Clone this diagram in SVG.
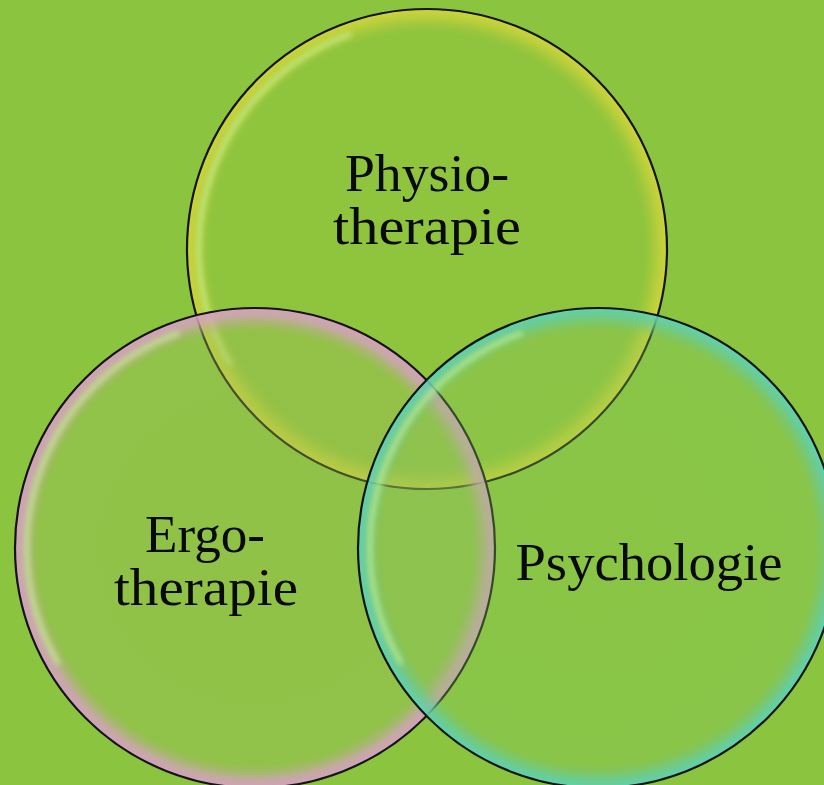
<svg xmlns="http://www.w3.org/2000/svg" width="824" height="785" viewBox="0 0 824 785">
  <defs>
    <style>
      .label { font-family: "Liberation Serif", "Times New Roman", serif; font-size: 52px; fill: #0a0a0a; text-anchor: middle; }
      .outline { fill: none; stroke: #141414; stroke-width: 2.2; }
      .hl { fill: none; stroke: #cdf49a; stroke-width: 6; stroke-opacity: 0.55; stroke-linecap: round; filter: url(#blur); }
    </style>
    <filter id="blur" x="-20%" y="-20%" width="140%" height="140%">
      <feGaussianBlur stdDeviation="2.5"/>
    </filter>
    <radialGradient id="gTop" cx="50%" cy="50%" r="50%">
      <stop offset="0" stop-color="#98c23a" stop-opacity="0.3"/>
      <stop offset="0.9" stop-color="#98c23a" stop-opacity="0.3"/>
      <stop offset="0.965" stop-color="#c6d23a" stop-opacity="0.75"/>
      <stop offset="1" stop-color="#d2d43c" stop-opacity="0.95"/>
    </radialGradient>
    <radialGradient id="gLeft" cx="50%" cy="50%" r="50%">
      <stop offset="0" stop-color="#97bc52" stop-opacity="0.35"/>
      <stop offset="0.9" stop-color="#9cbc5c" stop-opacity="0.35"/>
      <stop offset="0.965" stop-color="#d0a4b8" stop-opacity="0.8"/>
      <stop offset="1" stop-color="#d89ec4" stop-opacity="0.95"/>
    </radialGradient>
    <radialGradient id="gRight" cx="50%" cy="50%" r="50%">
      <stop offset="0" stop-color="#86c452" stop-opacity="0.3"/>
      <stop offset="0.9" stop-color="#84c45c" stop-opacity="0.3"/>
      <stop offset="0.965" stop-color="#66cc9e" stop-opacity="0.8"/>
      <stop offset="1" stop-color="#5cd2b8" stop-opacity="0.95"/>
    </radialGradient>
  </defs>

  <rect x="0" y="0" width="824" height="785" fill="#8bc53f"/>

  <g id="node-physiotherapie">
    <circle cx="427" cy="249" r="240" fill="url(#gTop)"/>
    <path class="hl" d="M229.5,363 A228,228 0 0 1 349,34.7"/>
    <circle class="outline" cx="427" cy="249" r="240"/>
  </g>

  <g id="node-ergotherapie">
    <circle cx="255" cy="548" r="240" fill="url(#gLeft)"/>
    <path class="hl" d="M57.5,662 A228,228 0 0 1 177,333.7"/>
    <circle class="outline" cx="255" cy="548" r="240"/>
  </g>

  <g id="node-psychologie">
    <circle cx="598" cy="548" r="240" fill="url(#gRight)"/>
    <path class="hl" d="M400.5,662 A228,228 0 0 1 520,333.7"/>
    <circle class="outline" cx="598" cy="548" r="240"/>
  </g>

  <g id="labels">
    <text class="label" x="427" y="191" textLength="164" lengthAdjust="spacingAndGlyphs">Physio-</text>
    <text class="label" x="427" y="244" textLength="188" lengthAdjust="spacingAndGlyphs">therapie</text>
    <text class="label" x="205" y="552" textLength="120" lengthAdjust="spacingAndGlyphs">Ergo-</text>
    <text class="label" x="206" y="605" textLength="184" lengthAdjust="spacingAndGlyphs">therapie</text>
    <text class="label" x="649" y="580" textLength="267" lengthAdjust="spacingAndGlyphs">Psychologie</text>
  </g>
</svg>
